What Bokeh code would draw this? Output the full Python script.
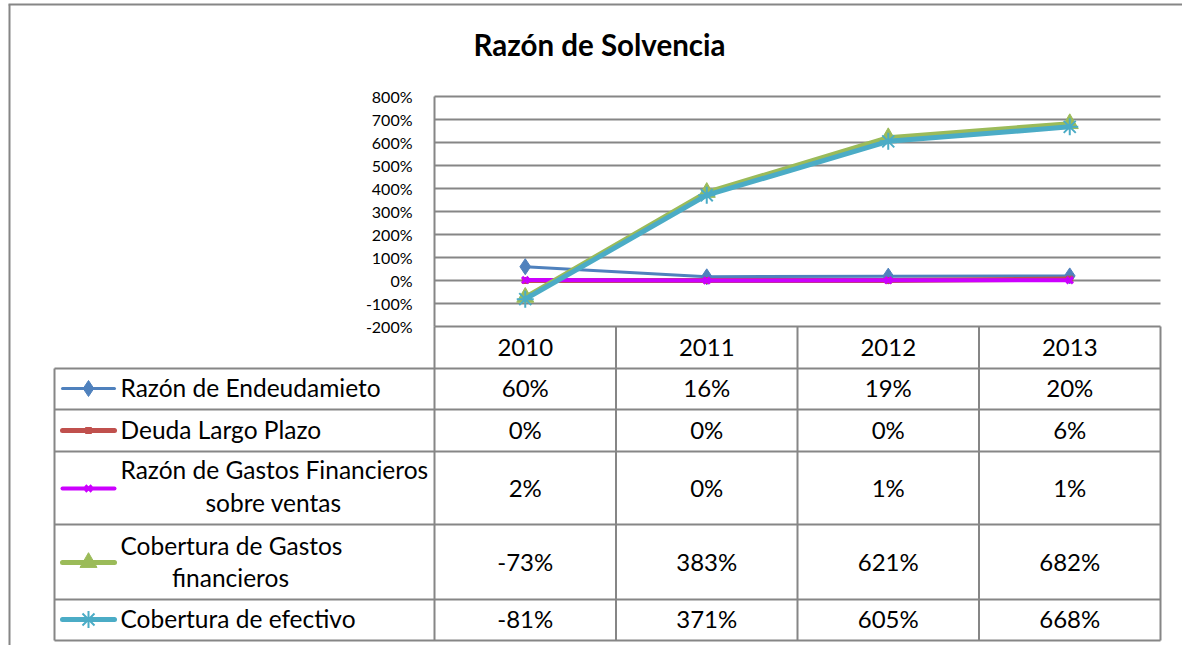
from bokeh.plotting import figure
from bokeh.models import Range1d, FixedTicker, PrintfTickFormatter, Label, LinearAxis
from bokeh.core.properties import value
from bokeh.embed import file_html
from bokeh.resources import INLINE

# ---------------- data ----------------
title_text = "Razón de Solvencia"
years = ["2010", "2011", "2012", "2013"]
endeudamiento = [60, 16, 19, 20]
deuda_largo_plazo = [0, 0, 0, 6]
gastos_fin_ventas = [2, 0, 1, 1]
cobertura_gastos = [-73, 383, 621, 682]
cobertura_efectivo = [-81, 371, 605, 668]
y_ticks = [-200, -100, 0, 100, 200, 300, 400, 500, 600, 700, 800]
legend_lines = [
    ["Razón de Endeudamieto"],
    ["Deuda Largo Plazo"],
    ["Razón de Gastos Financieros", "sobre ventas"],
    ["Cobertura de Gastos", "financieros"],
    ["Cobertura de efectivo"],
]

FONT = "Lato"
GRID = "#868686"
series = [
    dict(vals=endeudamiento, color="#4F81BD", lw=3, marker="diamond", size=16, mlw=1),
    dict(vals=deuda_largo_plazo, color="#C0504D", lw=5, marker="square", size=6, mlw=1),
    dict(vals=gastos_fin_ventas, color="#CC00FF", lw=4, marker="x", size=9, mlw=3),
    dict(vals=cobertura_gastos, color="#9BBB59", lw=5, marker="triangle", size=17, mlw=1),
    dict(vals=cobertura_efectivo, color="#4BACC6", lw=5, marker="asterisk", size=17, mlw=2),
]
xs = list(range(len(years)))

# ---------------- layout constants (pixels) ----------------
W, H = 1182, 645
COL = 181.5            # px per category
PLOT_LEFT = 434        # px of the category axis start
TOP800 = 96            # px of the 800% gridline
PX_PER_UNIT = 0.23     # px per 1 percentage point
TABLE_TOP = 326        # px of the table top


def px(xp):
    return -0.5 + (xp - PLOT_LEFT) / COL


y_end = 800 + TOP800 / PX_PER_UNIT
y_start = 800 - (H - TOP800) / PX_PER_UNIT

p = figure(width=W, height=H, output_backend="svg", toolbar_location=None,
           x_axis_type=None, y_axis_type=None,
           min_border_left=0, min_border_right=0, min_border_top=0, min_border_bottom=0,
           x_range=Range1d(px(0), px(W)), y_range=Range1d(y_start, y_end))
p.extra_y_ranges = {"table": Range1d(start=H - TABLE_TOP, end=-TABLE_TOP)}
p.outline_line_color = None
p.background_fill_color = "white"
p.border_fill_color = "white"

# outer border
p.segment(x0=[px(9)], y0=[4 - TABLE_TOP], x1=[px(9)], y1=[H - TABLE_TOP], y_range_name="table",
          line_color=GRID, line_width=2)
p.segment(x0=[px(8)], y0=[4 - TABLE_TOP], x1=[px(W)], y1=[4 - TABLE_TOP], y_range_name="table",
          line_color=GRID, line_width=2)

# horizontal gridlines
p.segment(x0=[-0.5] * len(y_ticks), y0=y_ticks, x1=[3.5] * len(y_ticks), y1=y_ticks,
          line_color=GRID, line_width=2)

# y axis inside the canvas
yaxis = LinearAxis(fixed_location=-0.5, bounds=(-200, 800), ticker=FixedTicker(ticks=y_ticks),
                   formatter=PrintfTickFormatter(format="%d%%"))
yaxis.axis_line_color = GRID
yaxis.axis_line_width = 2
yaxis.major_tick_line_color = None
yaxis.minor_tick_line_color = None
yaxis.major_label_standoff = 16
yaxis.major_label_text_font = FONT
yaxis.major_label_text_font_size = "16px"
yaxis.major_label_text_color = "black"
p.add_layout(yaxis, "left")

for s in series:
    p.line(xs, s["vals"], line_color=s["color"], line_width=s["lw"])
    p.scatter(xs, s["vals"], marker=s["marker"], size=s["size"], fill_color=s["color"],
              line_color=s["color"], line_width=s["mlw"])

p.add_layout(Label(x=px(599), y=44 - TABLE_TOP, y_range_name="table", text=title_text,
                   text_align="center", text_baseline="middle", text_font=FONT,
                   text_font_style="bold", text_font_size="29.5px", text_color="black"))

# ---------------- data table ----------------
leg_left = px(54)
rows = [0, 42, 83, 125, 198, 273, 314]
h_y = rows[1:]
p.segment(x0=[leg_left] * len(h_y), y0=h_y, x1=[3.5] * len(h_y), y1=h_y, y_range_name="table",
          line_color=GRID, line_width=2)
v_x = [-0.5, 0.5, 1.5, 2.5, 3.5]
p.segment(x0=v_x, y0=[0] * len(v_x), x1=v_x, y1=[314] * len(v_x), y_range_name="table",
          line_color=GRID, line_width=2)
p.segment(x0=[leg_left], y0=[42], x1=[leg_left], y1=[314], y_range_name="table",
          line_color=GRID, line_width=2)

NUM_FS = "24px"
LEG_FS = "24.5px"
p.text(x=xs, y=[20.5] * 4, text=years, y_range_name="table", text_align="center",
       text_baseline="middle", text_font=value(FONT), text_font_size=NUM_FS, text_color="black")

row_mid = [60.5, 102.5, 160.5, 234.5, 291.5]
line_ys = [[60.5], [102.5], [143, 176], [218.5, 250.5], [291.5]]
sample_y = [62, 104, 162, 236, 293]
multi_center = {2: 273, 3: 230}
for i, s in enumerate(series):
    ym = row_mid[i]
    sy = sample_y[i]
    p.line([px(62), px(114)], [sy, sy], y_range_name="table", line_color=s["color"],
           line_width=s["lw"], line_cap="round")
    p.scatter([px(88)], [sy], y_range_name="table", marker=s["marker"], size=s["size"],
              fill_color=s["color"], line_color=s["color"], line_width=s["mlw"])
    lines = legend_lines[i]
    p.text(x=[px(120)], y=[line_ys[i][0]], text=[lines[0]], y_range_name="table",
           text_align="left", text_baseline="middle", text_font=value(FONT),
           text_font_size=LEG_FS, text_color="black")
    if len(lines) > 1:
        p.text(x=[px(multi_center[i])], y=[line_ys[i][1]], text=[lines[1]], y_range_name="table",
               text_align="center", text_baseline="middle", text_font=value(FONT),
               text_font_size=LEG_FS, text_color="black")
    p.text(x=xs, y=[ym] * 4, text=[f"{v}%" for v in s["vals"]], y_range_name="table",
           text_align="center", text_baseline="middle", text_font=value(FONT),
           text_font_size=NUM_FS, text_color="black")

open("out.html", "w").write(file_html(p, INLINE))
